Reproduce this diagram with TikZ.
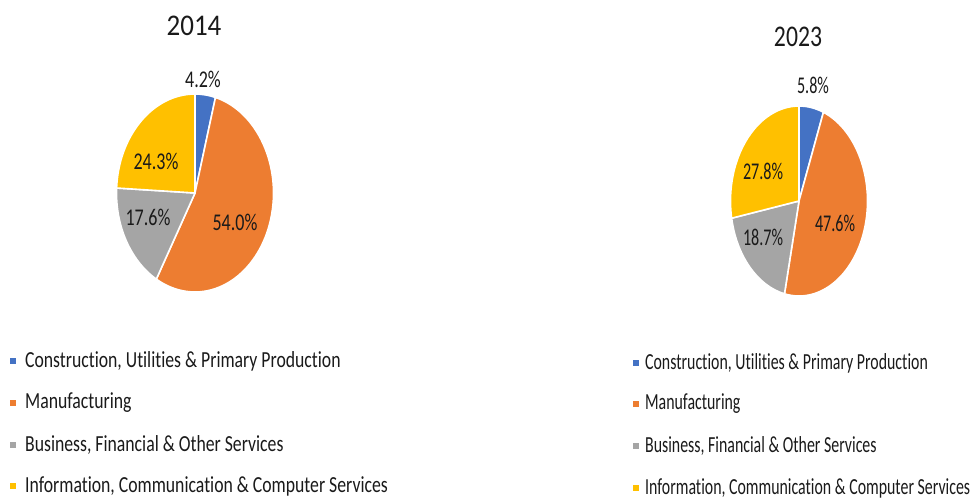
\documentclass[tikz,border=0pt]{standalone}
\usepackage{fontspec}
\setmainfont{Carlito}
\newcommand{\stretched}[1]{\fontspec{Carlito}[FakeStretch=#1,Ligatures=NoCommon]}
\usepackage{xcolor}
\usepackage{tikz}
\usetikzlibrary{positioning}
\definecolor{cblue}{HTML}{4472C4}
\definecolor{corange}{HTML}{ED7D31}
\definecolor{cgray}{HTML}{A5A5A5}
\definecolor{cyellow}{HTML}{FFC000}
\definecolor{textgray}{HTML}{1A1A1A}
\tikzset{
  slice/.style={draw=white,line width=1.6pt,line join=round},
  charttitle/.style={font=\stretched{#1}\fontsize{30}{32}\selectfont,text=textgray,inner sep=0pt},
  share/.style={font=\stretched{#1}\fontsize{24}{26}\selectfont,text=textgray,inner sep=0pt},
  legmark/.style={minimum size=6.5pt,inner sep=0pt},
  legtext/.style={font=\stretched{#1}\fontsize{23}{25}\selectfont,text=textgray,inner sep=0pt,anchor=west}
}

\begin{document}
\begin{tikzpicture}[x=1pt,y=1pt]
  \useasboundingbox (0,0) rectangle (974,-498);
  % 2014 pie
  \begin{scope}[shift={(195,-193)},xscale=78.5,yscale=99]
    \foreach \from/\to/\col in {0/4.2/cblue, 4.2/58.2/corange, 58.2/75.8/cgray, 75.8/100/cyellow}
      \fill[slice,fill=\col] (0,0) -- (90-3.6*\from:1) arc[start angle=90-3.6*\from,end angle=90-3.6*\to,radius=1] -- cycle;
  \end{scope}
  % 2023 pie
  \begin{scope}[shift={(799,-201)},xscale=68.5,yscale=95]
    \foreach \from/\to/\col in {0/5.8/cblue, 5.8/53.4/corange, 53.4/72.1/cgray, 72.1/100/cyellow}
      \fill[slice,fill=\col] (0,0) -- (90-3.6*\from:1) arc[start angle=90-3.6*\from,end angle=90-3.6*\to,radius=1] -- cycle;
  \end{scope}
  \node[charttitle=0.9] (title14) at (194,-26) {2014};
  \node[charttitle=0.79] (title23) at (798,-37) {2023};
  \foreach \x/\y/\val [count=\k] in {203/79/4.2, 235/222/54.0, 148/217/17.6, 156/161/24.3}
    \node[share=0.75] (a\k) at (\x,-\y) {\val\%};
  \foreach \x/\y/\val [count=\k] in {813/85/5.8, 835/223/47.6, 763/237/18.7, 763/171/27.8}
    \node[share=0.67] (b\k) at (\x,-\y) {\val\%};
  % legends
  \foreach \n/\ya/\yb/\col/\lab in {
      1/361/363/cblue/{Construction, Utilities \& Primary Production},
      2/403/404/corange/Manufacturing,
      3/445/446/cgray/{Business, Financial \& Other Services},
      4/486/488/cyellow/{Information, Communication \& Computer Services}
    } {
    \node[legmark,fill=\col] (la\n) at (13,-\ya) {};
    \node[legtext=0.77,right=8.5pt of la\n] (lta\n) {\lab};
    \node[legmark,fill=\col] (lb\n) at (636,-\yb) {};
    \node[legtext=0.69,right=5.5pt of lb\n] (ltb\n) {\lab};
  }
\end{tikzpicture}
\end{document}
